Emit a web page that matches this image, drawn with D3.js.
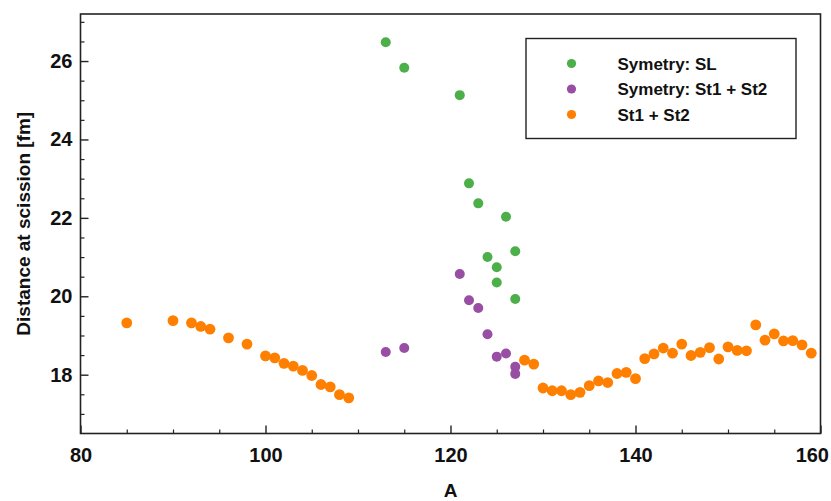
<!DOCTYPE html>
<html>
<head>
<meta charset="utf-8">
<script src="https://cdn.jsdelivr.net/npm/d3@7"></script>
<style>
  html, body { margin: 0; padding: 0; background: #fff; }
  svg { display: block; }
  text { font-family: "Liberation Sans", Arial, sans-serif; font-weight: bold; fill: #111; }
</style>
</head>
<body>
<svg id="chart" width="831" height="501"></svg>
<script>
// ---- Data ----
const symSL_A = [113, 115, 121, 122, 123, 124, 125, 125, 126, 127, 127];
const symSL_D = [26.48, 25.83, 25.13, 22.88, 22.37, 21.00, 20.74, 20.35, 22.03, 21.15, 19.93];

const symSt_A = [113, 115, 121, 122, 123, 124, 125, 126, 127, 127];
const symSt_D = [18.58, 18.68, 20.57, 19.90, 19.70, 19.03, 18.46, 18.54, 18.20, 18.02];

const st_A = [85, 90, 92, 93, 94, 96, 98, 100, 101, 102, 103, 104, 105, 106, 107, 108, 109,
              128, 129, 130, 131, 132, 133, 134, 135, 136, 137, 138, 139, 140,
              141, 142, 143, 144, 145, 146, 147, 148, 149, 150, 151, 152, 153, 154, 155, 156, 157, 158, 159];
const st_D = [19.32, 19.38, 19.32, 19.23, 19.16, 18.94, 18.78, 18.48, 18.43, 18.29, 18.22, 18.11, 17.98, 17.75, 17.69, 17.49, 17.41,
              18.37, 18.27, 17.66, 17.59, 17.59, 17.49, 17.55, 17.72, 17.84, 17.80, 18.03, 18.06, 17.90,
              18.41, 18.53, 18.68, 18.55, 18.78, 18.49, 18.57, 18.69, 18.40, 18.71, 18.62, 18.61, 19.27, 18.88, 19.04, 18.86, 18.87, 18.76, 18.55];

const seriesNames = ["Symetry: SL", "Symetry: St1 + St2", "St1 + St2"];
const seriesColors = ["#4daf4a", "#984ea3", "#ff7f00"];

const xTicks = [80, 100, 120, 140, 160];
const yTicks = [18, 20, 22, 24, 26];
const xLabel = "A";
const yLabel = "Distance at scission [fm]";

// ---- Layout ----
const svg = d3.select("#chart");
const L = 80.5, R = 820.5, T = 14, B = 433.5;

const x = d3.scaleLinear().domain([80, 160]).range([L, R]);
const y = d3.scaleLinear().domain([16.5, 27.2]).range([B, T]);

// minor ticks
const xMinor = d3.range(80, 160.01, 5).filter(v => !xTicks.includes(v));
const yMinor = d3.range(17, 27.01, 0.5).filter(v => !yTicks.includes(v));

svg.append("g").attr("transform", `translate(0,${B})`)
  .call(d3.axisBottom(x).tickValues(xMinor).tickSize(-4).tickFormat(""))
  .call(g => g.select(".domain").remove())
  .call(g => g.selectAll("line").attr("stroke", "#222").attr("stroke-width", 1.2));
svg.append("g").attr("transform", `translate(${L},0)`)
  .call(d3.axisLeft(y).tickValues(yMinor).tickSize(-4).tickFormat(""))
  .call(g => g.select(".domain").remove())
  .call(g => g.selectAll("line").attr("stroke", "#222").attr("stroke-width", 1.2));

// major axes
const xAxis = svg.append("g").attr("transform", `translate(0,${B})`)
  .call(d3.axisBottom(x).tickValues(xTicks).tickSize(-8).tickPadding(14).tickSizeOuter(0));
xAxis.select(".domain").remove();
xAxis.selectAll("line").attr("stroke", "#222").attr("stroke-width", 1.4);
xAxis.selectAll("text").attr("font-size", 20).attr("fill", "#111")
  .style("font-family", '"Liberation Sans", Arial, sans-serif').style("font-weight", "bold")
  .filter(d => d === 160).attr("text-anchor", "end").attr("dx", 8);

const yAxis = svg.append("g").attr("transform", `translate(${L},0)`)
  .call(d3.axisLeft(y).tickValues(yTicks).tickSize(-8).tickPadding(8).tickSizeOuter(0));
yAxis.select(".domain").remove();
yAxis.selectAll("line").attr("stroke", "#222").attr("stroke-width", 1.4);
yAxis.selectAll("text").attr("font-size", 20).attr("fill", "#111")
  .style("font-family", '"Liberation Sans", Arial, sans-serif').style("font-weight", "bold");

// frame
svg.append("rect").attr("x", L).attr("y", T).attr("width", R - L).attr("height", B - T)
  .attr("fill", "none").attr("stroke", "#222").attr("stroke-width", 1.6);

// axis titles
svg.append("text").attr("x", (L + R) / 2).attr("y", 497).attr("text-anchor", "middle")
  .attr("font-size", 19).text(xLabel);
svg.append("text").attr("transform", `translate(30,${(T + B) / 2}) rotate(-90)`)
  .attr("text-anchor", "middle").attr("font-size", 19).text(yLabel);

// points
const series = [
  { A: symSL_A, D: symSL_D },
  { A: symSt_A, D: symSt_D },
  { A: st_A, D: st_D }
];
const radii = [5, 5, 5.4];
[2, 1, 0].forEach(i => {
  const s = series[i];
  svg.append("g").selectAll("circle")
    .data(s.A.map((a, k) => [a, s.D[k]]))
    .join("circle")
    .attr("cx", d => x(d[0]))
    .attr("cy", d => y(d[1]))
    .attr("r", radii[i])
    .attr("fill", seriesColors[i]);
});

// legend
const lg = svg.append("g");
lg.append("rect").attr("x", 526).attr("y", 38.5).attr("width", 270).attr("height", 100)
  .attr("fill", "#fff").attr("stroke", "#222").attr("stroke-width", 1.4);
seriesNames.forEach((name, i) => {
  const cy = 63.5 + i * 25.5;
  lg.append("circle").attr("cx", 571.5).attr("cy", cy).attr("r", 4.6).attr("fill", seriesColors[i]);
  lg.append("text").attr("x", 617.5).attr("y", cy).attr("dy", "0.36em")
    .attr("font-size", 17).text(name);
});
</script>
</body>
</html>
